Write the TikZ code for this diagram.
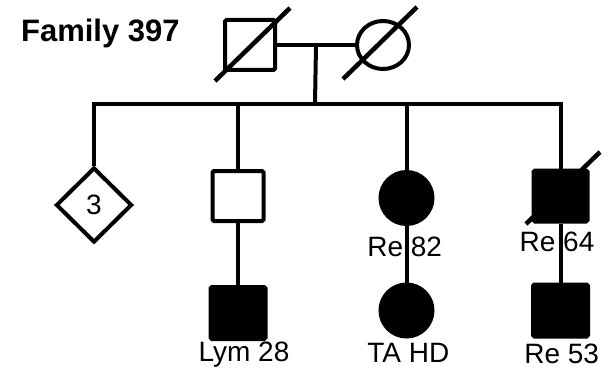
\documentclass[tikz,border=0pt]{standalone}
\usepackage{fontspec}
\setmainfont{Liberation Sans}
\usepackage{tikz}
\usetikzlibrary{positioning,shapes.geometric,calc}
\definecolor{ink}{HTML}{000000}
\tikzset{
  font=\fontsize{28}{30}\selectfont,
  male/.style     = {draw=ink, line width=4pt, rectangle, rounded corners=1.5pt,
                     inner sep=0pt},
  female/.style   = {draw=ink, line width=4pt, ellipse, inner sep=0pt},
  sibset/.style   = {draw=ink, line width=4pt, diamond, aspect=1, inner sep=0pt,
                     minimum width=76pt, minimum height=75pt},
  aff/.style      = {fill=ink},
  rel/.style      = {draw=ink, line width=4pt, line join=miter},
  dead/.style     = {draw=ink, line width=4.5pt},
  lbl/.style      = {text=ink, inner sep=0pt, anchor=base},
}

\begin{document}
\begin{tikzpicture}[x=1pt, y=-1pt]
\useasboundingbox (0,0) rectangle (608,369);

% ---- title ------------------------------------------------------------
\node[lbl, font=\fontsize{31}{33}\selectfont\bfseries] (title) at (100.4,41.7) {Family 397};

% ---- parents (y = 45) -------------------------------------------------
\node[male, minimum width=50pt, minimum height=50pt] (father) at (250,45) {};
\node[female, minimum width=52pt, minimum height=48pt] (mother) at (383,45) {};
\draw[dead] ($(father.center)+(-35,36)$) -- ($(father.center)+(40,-37)$);
\draw[dead] ($(mother.center)+(-40,34)$) -- ($(mother.center)+(34,-38)$);
\draw[rel] (father) -- (mother);

\coordinate (mate) at ($(father.east)!0.5!(mother.west)$);
\coordinate (sib) at (315,104);

% ---- children (y = 196) -----------------------------------------------
\node[sibset] (sibs) at (94,205) {3};
\node[male, minimum width=51pt, minimum height=50pt] (sonA) at (238,196) {};
\node[female, aff, minimum width=52pt, minimum height=52pt] (dauB) at (406.5,198) {};
\draw[dead] (526,224) -- (600,152);
\node[male, aff, minimum width=54pt, minimum height=51pt] (sonC) at (560.5,196) {};

% ---- grandchildren (y = 311) ------------------------------------------
\node[male, aff, minimum width=55pt, minimum height=52pt] (gsA) at (238,313) {};
\node[female, aff, minimum width=52pt, minimum height=52pt] (gdB) at (406.5,310.5) {};
\node[male, aff, minimum width=55pt, minimum height=52pt] (gsC) at (560.5,310.5) {};

% ---- lines of descent -------------------------------------------------
\draw[rel] (mate) -- (sib);
\draw[rel] (sibs.north) |- (sonC.north |- sib) -- (sonC.north);
\draw[rel] (sonA.north |- sib) -- (sonA.north);
\draw[rel] (dauB.north |- sib) -- (dauB.north);
\draw[rel] (sonA) -- (gsA);
\draw[rel] (dauB) -- (gdB);
\draw[rel] (sonC) -- (gsC);

% ---- labels -----------------------------------------------------------
\node[lbl] (lblB)  at (404.7,256)   {Re 82};
\node[lbl] (lblC)  at (557,251.7)   {Re 64};
\node[lbl] (lblgA) at (244,361.7)   {Lym 28};
\node[lbl] (lblgB) at (408.4,362)   {TA HD};
\node[lbl] (lblgC) at (561.7,363.5) {Re 53};

\end{tikzpicture}
\end{document}
